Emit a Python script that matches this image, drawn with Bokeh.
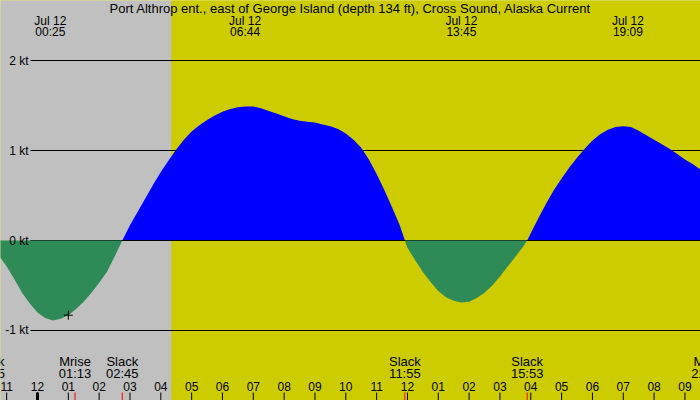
import numpy as np
from bokeh.plotting import figure
from bokeh.embed import file_html
from bokeh.resources import INLINE
from bokeh.core.properties import value

# ---------------- data (hours since 00:00 Jul 12) ----------------
title = "Port Althrop ent., east of George Island (depth 134 ft), Cross Sound, Alaska Current"

curve_t = [-1.583, -1.5, -1.25, -1.0, -0.75, -0.5, -0.25, 0.0, 0.25, 0.5, 0.75, 1.0, 1.25,
           1.5, 1.75, 2.0, 2.25, 2.5, 2.75, 3.0, 3.25, 3.5, 3.75, 4.0, 4.25, 4.5, 4.75,
           5.0, 5.25, 5.5, 5.75, 6.0, 6.25, 6.5, 6.75, 7.0, 7.25, 7.5, 7.75, 8.0, 8.25,
           8.5, 8.75, 9.0, 9.25, 9.5, 9.75, 10.0, 10.25, 10.5, 10.75, 11.0, 11.25, 11.5,
           11.75, 11.917, 12.0, 12.25, 12.5, 12.75, 13.0, 13.25, 13.5, 13.75, 14.0, 14.25,
           14.5, 14.75, 15.0, 15.25, 15.5, 15.75, 15.883, 16.0, 16.25, 16.5, 16.75, 17.0,
           17.25, 17.5, 17.75, 18.0, 18.25, 18.5, 18.75, 19.0, 19.25, 19.5, 19.75, 20.0,
           20.25, 20.5, 20.75, 21.0, 21.25, 21.5, 21.75]
curve_v = [0.0, -0.05, -0.17, -0.29, -0.43, -0.58, -0.70, -0.80, -0.86, -0.89, -0.87, -0.83, -0.76,
           -0.68, -0.58, -0.47, -0.35, -0.18, 0.0, 0.17, 0.32, 0.47, 0.62, 0.76, 0.89, 1.01, 1.12,
           1.21, 1.28, 1.34, 1.39, 1.43, 1.46, 1.48, 1.49, 1.49, 1.47, 1.44, 1.41, 1.38, 1.35,
           1.33, 1.32, 1.31, 1.29, 1.27, 1.24, 1.19, 1.12, 1.03, 0.90, 0.74, 0.56, 0.37,
           0.17, 0.0, -0.08, -0.22, -0.35, -0.46, -0.56, -0.63, -0.67, -0.69, -0.68, -0.64,
           -0.58, -0.50, -0.40, -0.29, -0.18, -0.07, 0.0, 0.08, 0.25, 0.41, 0.56, 0.69,
           0.81, 0.92, 1.02, 1.11, 1.18, 1.23, 1.26, 1.27, 1.26, 1.22, 1.17, 1.12,
           1.07, 1.02, 0.96, 0.90, 0.85, 0.79, 0.73]

extreme_t = [0.417, 6.733, 13.75, 19.15]
extreme_date = ["Jul 12", "Jul 12", "Jul 12", "Jul 12"]
extreme_lbl = ["00:25", "06:44", "13:45", "19:09"]

event_t = [-1.583, 1.217, 2.75, 11.917, 15.883, 21.733]
event_name = ["Slack", "Mrise", "Slack", "Slack", "Slack", "Mset"]
event_lbl = ["22:25", "01:13", "02:45", "11:55", "15:53", "21:44"]

hour_t = list(range(-1, 23))
hour_lbl = ["11", "12", "01", "02", "03", "04", "05", "06", "07", "08", "09", "10", "11",
            "12", "01", "02", "03", "04", "05", "06", "07", "08", "09", "10"]

grid_v = [2, 1, 0, -1]
grid_lbl = ["2 kt", "1 kt", "0 kt", "-1 kt"]

sunrise = 4.346
marker_t = [1.0]
marker_v = [-0.83]

# ---------------- layout helpers ----------------
X0, X1 = -1.2, 21.505
Y0, Y1 = -1.778, 2.667


def py(ypix):
    return (240.0 - ypix) / 90.0


def px(xpix):
    return X0 + xpix * (X1 - X0) / 700.0


FONT = value("Liberation Sans")

p = figure(width=700, height=400, x_range=(X0, X1), y_range=(Y0, Y1),
           output_backend="svg", toolbar_location=None, min_border=0,
           x_axis_location=None, y_axis_location=None)
p.grid.visible = False
p.outline_line_color = None
p.background_fill_color = "#cccc00"
p.border_fill_color = "#cccc00"

# night / day background
p.quad(left=[X0 - 1], right=[sunrise], bottom=[Y0 - 1], top=[Y1 + 1],
       fill_color="#c0c0c0", line_color=None)
p.quad(left=[sunrise], right=[X1 + 1], bottom=[Y0 - 1], top=[Y1 + 1],
       fill_color="#cccc00", line_color=None)

# gridlines
gx0 = px(30)
p.segment(x0=[gx0] * len(grid_v), y0=grid_v, x1=[X1 + 1] * len(grid_v), y1=grid_v,
          line_color="black", line_width=1)

# current areas
t = np.array(curve_t)
v = np.array(curve_v)
p.varea(x=t, y1=np.zeros_like(v), y2=np.maximum(v, 0), fill_color="#0000ff")
p.segment(x0=[gx0], y0=[0], x1=[X1 + 1], y1=[0], line_color="black", line_width=1)
p.varea(x=t, y1=np.zeros_like(v), y2=np.minimum(v, 0), fill_color="#2e8b57")

p.scatter(x=marker_t, y=marker_v, marker="cross", size=9, line_color="black", line_width=1)

# grid labels on top
p.text(x=[px(28)] * len(grid_v), y=grid_v, text=grid_lbl, text_align="right",
       text_baseline="middle", text_font=FONT, text_font_size="12px", text_color="black")

# header
p.text(x=[px(350)], y=[py(7.5)], text=[title], text_align="center", text_baseline="middle",
       text_font=FONT, text_font_size="13px", text_color="black")
p.text(x=extreme_t, y=[py(20)] * 4, text=extreme_date, text_align="center",
       text_baseline="middle", text_font=FONT, text_font_size="12px", text_color="black")
p.text(x=extreme_t, y=[py(31.5)] * 4, text=extreme_lbl, text_align="center",
       text_baseline="middle", text_font=FONT, text_font_size="12px", text_color="black")

# bottom events
n = len(event_t)
p.text(x=event_t, y=[py(361)] * n, text=event_name, text_align="center",
       text_baseline="middle", text_font=FONT, text_font_size="13px", text_color="black")
p.text(x=event_t, y=[py(373.5)] * n, text=event_lbl, text_align="center",
       text_baseline="middle", text_font=FONT, text_font_size="13px", text_color="black")

# hour ticks and labels
m = len(hour_t)
p.text(x=hour_t, y=[py(386)] * m, text=hour_lbl, text_align="center",
       text_baseline="middle", text_font=FONT, text_font_size="12px", text_color="black")
p.segment(x0=hour_t, y0=[py(392)] * m, x1=hour_t, y1=[py(401)] * m,
          line_color="black", line_width=1)
p.segment(x0=[0], y0=[py(392)], x1=[0], y1=[py(401)], line_color="black", line_width=3)
p.segment(x0=event_t, y0=[py(392)] * n, x1=event_t, y1=[py(401)] * n,
          line_color="red", line_width=1)

open("out.html", "w").write(file_html(p, INLINE))
